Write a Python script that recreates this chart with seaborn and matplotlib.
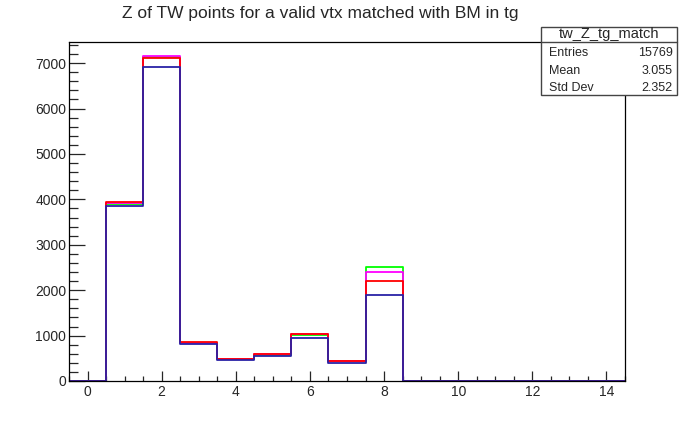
import numpy as np
import pandas as pd
import matplotlib
matplotlib.use("Agg")
import matplotlib.pyplot as plt
from matplotlib.ticker import MultipleLocator
from matplotlib.patches import Rectangle
import seaborn as sns

z_bins = list(range(15))
green_counts = [0, 3890, 7140, 830, 480, 575, 1010, 430, 2520, 0, 0, 0, 0, 0, 0]
magenta_counts = [0, 3930, 7155, 845, 490, 585, 1025, 440, 2390, 0, 0, 0, 0, 0, 0]
red_counts = [0, 3940, 7110, 850, 490, 585, 1025, 440, 2195, 0, 0, 0, 0, 0, 0]
blue_counts = [0, 3855, 6905, 805, 462, 548, 955, 405, 1895, 0, 0, 0, 0, 0, 0]

title = "Z of TW points for a valid vtx matched with BM in tg"
stats_name = "tw_Z_tg_match"
stats_rows = [("Entries", "15769"), ("Mean", "3.055"), ("Std Dev", "2.352")]

sns.set_style("ticks")
plt.rcParams["font.family"] = ["Liberation Sans", "DejaVu Sans"]

fig = plt.figure(figsize=(6.94, 4.23), dpi=100)
ax = fig.add_axes([0.0994, 0.0993, 0.8012, 0.8014])

series = [
    (green_counts, "#00ff00"),
    (magenta_counts, "#ff00ff"),
    (red_counts, "#ff0000"),
    (blue_counts, "#2a22a6"),
]
for counts, col in series:
    df = pd.DataFrame({"z": z_bins, "n": counts})
    sns.histplot(data=df, x="z", weights="n", binwidth=1, binrange=(-0.5, 14.5),
                 element="step", fill=False, color=col, linewidth=1.3, ax=ax)

ax.set_xlim(-0.5, 14.5)
ax.set_ylim(0, 7466)
ax.set_xlabel("")
ax.set_ylabel("")

# eixos no estilo ROOT: ticks para dentro, sem ticks no topo/direita
ax.xaxis.set_major_locator(MultipleLocator(2))
ax.xaxis.set_minor_locator(MultipleLocator(0.5))
ax.yaxis.set_major_locator(MultipleLocator(1000))
ax.yaxis.set_minor_locator(MultipleLocator(200))
ax.tick_params(axis="x", which="major", direction="in", length=7.2, width=0.9,
               labelsize=10, pad=3)
ax.tick_params(axis="x", which="minor", direction="in", length=3.6, width=0.9)
ax.tick_params(axis="y", which="major", direction="in", length=11.5, width=0.9,
               labelsize=10, pad=2)
ax.tick_params(axis="y", which="minor", direction="in", length=6.5, width=0.9)
for s in ax.spines.values():
    s.set_visible(True)
    s.set_color("black")
    s.set_linewidth(0.9)

fig.text(0.461, 0.967, title, ha="center", va="center", fontsize=12.5)

# caixa de estatísticas
x0, x1 = 0.7795, 0.9755
y0, y1 = 0.7754, 0.9362
ymid = 0.9007
fig.patches.append(Rectangle((x0, y0), x1 - x0, y1 - y0, transform=fig.transFigure,
                             facecolor="white", edgecolor="#444444", linewidth=1.0,
                             zorder=5))
fig.lines.append(plt.Line2D([x0, x1], [ymid, ymid], transform=fig.transFigure,
                            color="#444444", linewidth=1.0, zorder=6))
fig.text((x0 + x1) / 2, (ymid + y1) / 2, stats_name, ha="center", va="center",
         fontsize=10.5, zorder=7)
row_y = [1 - 53 / 423, 1 - 70.5 / 423, 1 - 88 / 423]
for (lab, val), yy in zip(stats_rows, row_y):
    fig.text(x0 + 0.011, yy, lab, ha="left", va="center", fontsize=9, zorder=7)
    fig.text(x1 - 0.006, yy, val, ha="right", va="center", fontsize=9, zorder=7)

fig.savefig("out.png", dpi=100)
